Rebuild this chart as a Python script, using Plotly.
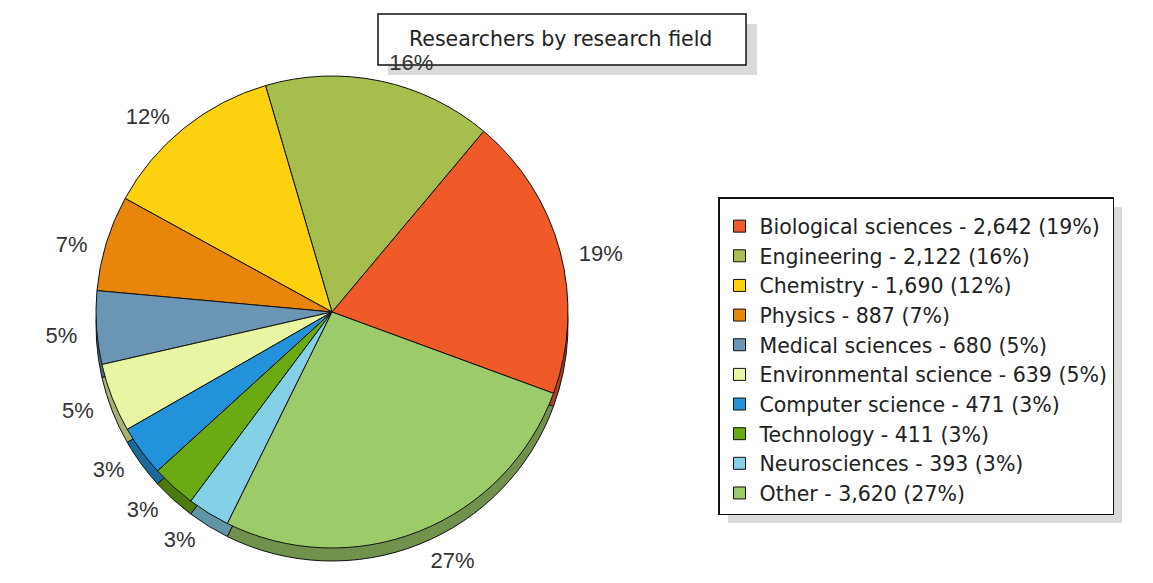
import plotly.graph_objects as go

categories = ["Biological sciences", "Engineering", "Chemistry", "Physics",
              "Medical sciences", "Environmental science", "Computer science",
              "Technology", "Neurosciences", "Other"]
researchers = [2642, 2122, 1690, 887, 680, 639, 471, 411, 393, 3620]
colors = ["#F05A28", "#A6BE4E", "#FDD10F", "#E8860C", "#6A95B5",
          "#E8F6A4", "#2293DA", "#6AAA12", "#84D0E6", "#9CCB6A"]
chart_title = "Researchers by research field"

total = sum(researchers)
legend_labels = [f"{c} - {v:,} ({round(v / total * 100)}%)" for c, v in zip(categories, researchers)]


def darken(hx, f=0.72):
    r, g, b = int(hx[1:3], 16), int(hx[3:5], 16), int(hx[5:7], 16)
    return f"rgb({int(r * f)},{int(g * f)},{int(b * f)})"


# the page body has an 8px margin, so the figure is 8px smaller than the window
OFF = 8
W, H = 1153 - OFF, 583 - OFF


def X(px):
    return (px - OFF) / W


def Y(py):
    return 1 - (py - OFF) / H


CX, CY, R, DEPTH = 332, 312, 236, 13


def dom(cx, cy, r):
    return dict(x=[X(cx - r), X(cx + r)], y=[Y(cy + r), Y(cy - r)])


fig = go.Figure()
# rim (3D side)
fig.add_trace(go.Pie(labels=legend_labels, values=researchers, sort=False,
                     direction="counterclockwise", rotation=40,
                     marker=dict(colors=[darken(c) for c in colors], line=dict(color="#111", width=1)),
                     textinfo="none", hoverinfo="skip", showlegend=False,
                     domain=dom(CX, CY + DEPTH, R)))
# top face
fig.add_trace(go.Pie(labels=legend_labels, values=researchers, sort=False,
                     direction="counterclockwise", rotation=40,
                     marker=dict(colors=colors, line=dict(color="#111", width=1)),
                     textinfo="none", showlegend=True,
                     domain=dom(CX, CY, R)))
# percentage labels
fig.add_trace(go.Pie(labels=legend_labels, values=researchers, sort=False,
                     direction="counterclockwise", rotation=40,
                     marker=dict(colors=["rgba(0,0,0,0)"] * len(colors), line=dict(width=0)),
                     texttemplate="%{percent:.0%}", textposition="outside",
                     outsidetextfont=dict(family="Liberation Sans, Arial", size=22, color="#333"),
                     hoverinfo="skip", showlegend=False,
                     domain=dom(CX, CY + DEPTH / 2, R + 13)))

LEG_L, LEG_T = 718, 197
shapes = [
    # title shadow + box
    dict(type="rect", xref="paper", yref="paper", x0=X(388), x1=X(757),
         y0=Y(75), y1=Y(24), fillcolor="#DADADA", line=dict(width=0), layer="below"),
    dict(type="rect", xref="paper", yref="paper", x0=X(378), x1=X(746),
         y0=Y(65), y1=Y(14), fillcolor="white", line=dict(color="#111", width=1.5), layer="below"),
    # legend shadow
    dict(type="rect", xref="paper", yref="paper", x0=X(LEG_L + 10), x1=X(1122),
         y0=Y(523), y1=Y(LEG_T + 10), fillcolor="#DADADA", line=dict(width=0), layer="below"),
]

fig.update_layout(
    width=W, height=H,
    margin=dict(l=0, r=0, t=0, b=0),
    paper_bgcolor="white", plot_bgcolor="white",
    font=dict(family="DejaVu Sans", color="#222"),
    shapes=shapes,
    annotations=[dict(text=chart_title, xref="paper", yref="paper",
                      x=X(560), y=Y(39), xanchor="center", yanchor="middle",
                      showarrow=False, font=dict(size=20.5, color="#222", family="DejaVu Sans"))],
    legend=dict(x=X(LEG_L), y=Y(LEG_T), xanchor="left", yanchor="top",
                bgcolor="white", bordercolor="#111", borderwidth=1.5,
                font=dict(size=20.5, family="DejaVu Sans", color="#222"),
                title=dict(text=" ", font=dict(size=6)),
                traceorder="normal"),
)

fig.write_html("out.html")
